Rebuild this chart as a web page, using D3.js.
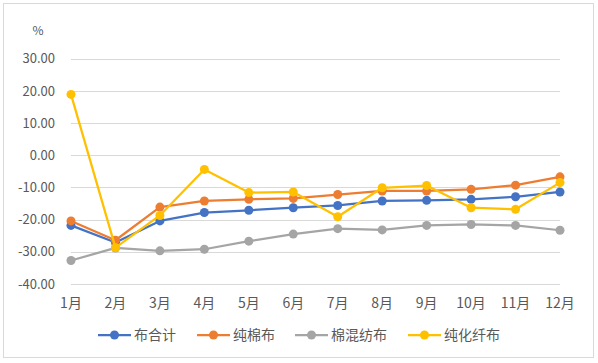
<!DOCTYPE html>
<html>
<head>
<meta charset="utf-8">
<script src="https://cdn.jsdelivr.net/npm/d3@7"></script>
<style>
  body { margin: 0; background: #fff; }
  svg { display: block; font-family: "Noto Sans CJK SC", "Microsoft YaHei", sans-serif; }
</style>
</head>
<body>
<svg id="chart" width="598" height="363"></svg>
<script>
var months = ["1月", "2月", "3月", "4月", "5月", "6月", "7月", "8月", "9月", "10月", "11月", "12月"];
var yTicks = [30, 20, 10, 0, -10, -20, -30, -40];
var seriesNames = ["布合计", "纯棉布", "棉混纺布", "纯化纤布"];
var seriesColors = ["#4472C4", "#ED7D31", "#A5A5A5", "#FFC000"];

var buTotal   = [-21.8, -27.1, -20.4, -17.8, -17.1, -16.3, -15.6, -14.2, -14.0, -13.7, -12.9, -11.4];
var pureCotton = [-20.4, -26.4, -16.1, -14.2, -13.7, -13.4, -12.2, -11.1, -11.1, -10.6, -9.3, -6.7];
var cottonBlend = [-32.7, -28.8, -29.7, -29.2, -26.7, -24.5, -22.8, -23.2, -21.8, -21.5, -21.8, -23.3];
var pureFiber = [18.9, -28.7, -18.7, -4.4, -11.6, -11.4, -19.1, -10.1, -9.4, -16.3, -16.8, -8.5];

var allSeries = [buTotal, pureCotton, cottonBlend, pureFiber];

var svg = d3.select("#chart");

// outer frame
svg.append("rect")
  .attr("x", 3.5).attr("y", 3.5)
  .attr("width", 590).attr("height", 354)
  .attr("fill", "#fff")
  .attr("stroke", "#d9d9d9")
  .attr("stroke-width", 1);

var x = d3.scalePoint()
  .domain(months)
  .range([71, 560]);

var y = d3.scaleLinear()
  .domain([-40, 30])
  .range([284, 58.7]);

// gridlines
svg.append("g")
  .selectAll("line")
  .data(yTicks)
  .enter().append("line")
  .attr("x1", 71).attr("x2", 560)
  .attr("y1", function(d) { return Math.round(y(d)) + 0.5; })
  .attr("y2", function(d) { return Math.round(y(d)) + 0.5; })
  .attr("stroke", "#d9d9d9")
  .attr("stroke-width", 1);

// y labels
svg.append("g")
  .selectAll("text")
  .data(yTicks)
  .enter().append("text")
  .attr("x", 55)
  .attr("y", function(d) { return y(d); })
  .attr("dy", "0.36em")
  .attr("text-anchor", "end")
  .attr("font-size", 13)
  .attr("fill", "#595959")
  .text(function(d) { return d.toFixed(2); });

svg.append("text")
  .attr("x", 38).attr("y", 31)
  .attr("dy", "0.36em")
  .attr("text-anchor", "middle")
  .attr("font-size", 12)
  .attr("fill", "#595959")
  .text("%");

// x labels
svg.append("g")
  .selectAll("text")
  .data(months)
  .enter().append("text")
  .attr("x", function(d) { return x(d); })
  .attr("y", 303)
  .attr("dy", "0.36em")
  .attr("text-anchor", "middle")
  .attr("font-size", 14)
  .attr("fill", "#595959")
  .text(function(d) { return d; });

var line = d3.line()
  .x(function(d, i) { return x(months[i]); })
  .y(function(d) { return y(d); });

allSeries.forEach(function(vals, s) {
  var g = svg.append("g");
  g.append("path")
    .datum(vals)
    .attr("d", line)
    .attr("fill", "none")
    .attr("stroke", seriesColors[s])
    .attr("stroke-width", 2.25)
    .attr("stroke-linejoin", "round");
  g.selectAll("circle")
    .data(vals)
    .enter().append("circle")
    .attr("cx", function(d, i) { return x(months[i]); })
    .attr("cy", function(d) { return y(d); })
    .attr("r", 4.5)
    .attr("fill", seriesColors[s]);
});

// legend
var legendX = [98, 197, 295, 408];
var legend = svg.append("g")
  .selectAll("g")
  .data(seriesNames)
  .enter().append("g")
  .attr("transform", function(d, i) { return "translate(" + legendX[i] + ",335)"; });

legend.append("line")
  .attr("x1", 0).attr("x2", 33)
  .attr("stroke", function(d, i) { return seriesColors[i]; })
  .attr("stroke-width", 2.25);
legend.append("circle")
  .attr("cx", 16.5).attr("r", 4.5)
  .attr("fill", function(d, i) { return seriesColors[i]; });
legend.append("text")
  .attr("x", 36)
  .attr("dy", "0.36em")
  .attr("font-size", 14)
  .attr("fill", "#595959")
  .text(function(d) { return d; });
</script>
</body>
</html>
